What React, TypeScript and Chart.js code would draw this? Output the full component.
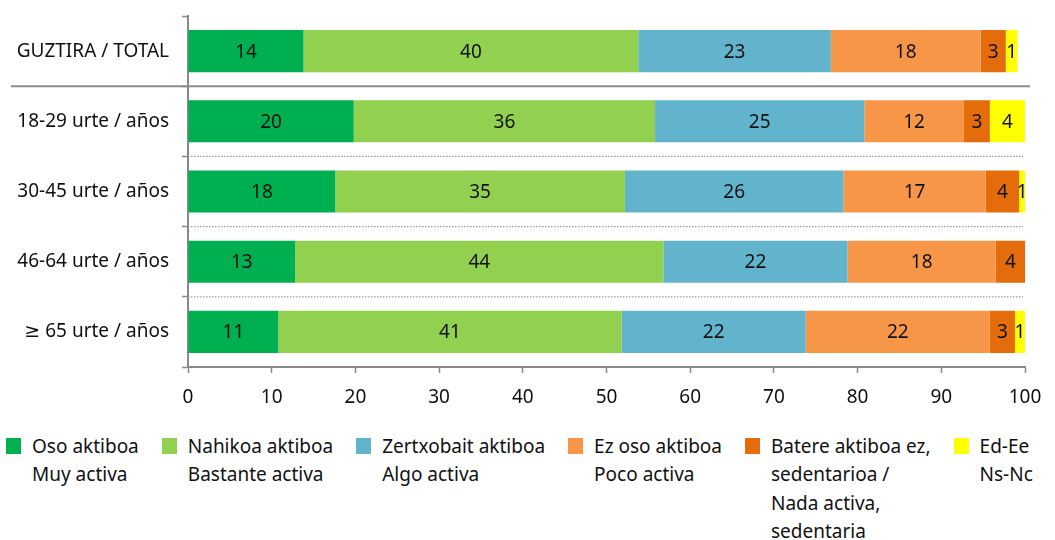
import React, { useEffect, useRef } from 'react';
import { Chart, registerables } from 'chart.js';

Chart.register(...registerables);

const categories = [
  'GUZTIRA / TOTAL',
  '18-29 urte / años',
  '30-45 urte / años',
  '46-64 urte / años',
  '≥ 65 urte / años',
];

const osoAktiboa = [13.8, 19.8, 17.6, 12.8, 10.8];
const nahikoaAktiboa = [40.0, 36.0, 34.6, 44.0, 41.0];
const zertxobaitAktiboa = [23.0, 25.0, 26.1, 22.0, 22.0];
const ezOsoAktiboa = [17.9, 11.9, 17.0, 17.7, 22.0];
const batereAktiboa = [3.0, 3.1, 4.0, 3.5, 3.0];
const edEe = [1.4, 4.2, 0.7, 0, 1.2];

const seriesValues = [osoAktiboa, nahikoaAktiboa, zertxobaitAktiboa, ezOsoAktiboa, batereAktiboa, edEe];

const seriesLabels: string[][] = [
  ['Oso aktiboa', 'Muy activa'],
  ['Nahikoa aktiboa', 'Bastante activa'],
  ['Zertxobait aktiboa', 'Algo activa'],
  ['Ez oso aktiboa', 'Poco activa'],
  ['Batere aktiboa ez,', 'sedentarioa /', 'Nada activa,', 'sedentaria'],
  ['Ed-Ee', 'Ns-Nc'],
];

const seriesColors = ['#00B050', '#92D050', '#62B4CC', '#F79646', '#E46C0A', '#FFFF00'];

const xMin = 0;
const xMax = 100;
const xStep = 10;

const FONT = '"Noto Sans", "DejaVu Sans", sans-serif';
const FONT_SIZE = 19;
const AXIS_COLOR = '#898989';

const separatorPlugin = {
  id: 'separators',
  afterDatasetsDraw(chart: any) {
    const { ctx, chartArea, scales } = chart;
    const y = scales.y;
    ctx.save();
    for (let i = 0; i < categories.length - 1; i++) {
      const yy = (y.getPixelForValue(i) + y.getPixelForValue(i + 1)) / 2;
      ctx.beginPath();
      if (i === 0) {
        ctx.strokeStyle = '#8c8c8c';
        ctx.lineWidth = 2;
        ctx.setLineDash([]);
        ctx.moveTo(11, yy);
        ctx.lineTo(chartArea.right + 5, yy);
      } else {
        ctx.strokeStyle = '#9a9a9a';
        ctx.lineWidth = 1.2;
        ctx.setLineDash([1.5, 1.5]);
        ctx.moveTo(chartArea.left, yy);
        ctx.lineTo(chartArea.right - 2, yy);
      }
      ctx.stroke();
    }
    ctx.restore();
  },
};

const valueLabelPlugin = {
  id: 'valueLabels',
  afterDatasetsDraw(chart: any) {
    const { ctx } = chart;
    ctx.save();
    ctx.font = `${FONT_SIZE}px ${FONT}`;
    ctx.fillStyle = '#111';
    ctx.textAlign = 'center';
    ctx.textBaseline = 'middle';
    chart.data.datasets.forEach((ds: any, di: number) => {
      const meta = chart.getDatasetMeta(di);
      meta.data.forEach((el: any, i: number) => {
        const v = ds.data[i];
        if (!v) return;
        const { x, base, y } = el.getProps(['x', 'base', 'y'], true);
        ctx.fillText(String(Math.round(v)), (x + base) / 2, y + 1);
      });
    });
    ctx.restore();
  },
};

export default function App() {
  const canvasRef = useRef<HTMLCanvasElement | null>(null);

  useEffect(() => {
    if (!canvasRef.current) return;
    const chart = new Chart(canvasRef.current, {
      type: 'bar',
      data: {
        labels: categories,
        datasets: seriesValues.map((vals, i) => ({
          label: seriesLabels[i].join(' '),
          data: vals,
          backgroundColor: seriesColors[i],
          borderWidth: 0,
          categoryPercentage: 0.6,
          barPercentage: 1,
        })),
      },
      options: {
        indexAxis: 'y',
        responsive: false,
        animation: false,
        devicePixelRatio: 1,
        layout: { padding: { left: 0, top: 16, right: 30, bottom: 0 } },
        plugins: {
          legend: { display: false },
          tooltip: { enabled: false },
        },
        scales: {
          x: {
            stacked: true,
            min: xMin,
            max: xMax,
            ticks: {
              stepSize: xStep,
              color: '#111',
              font: { family: FONT, size: FONT_SIZE },
              padding: 13,
              maxRotation: 0,
            },
            grid: {
              drawOnChartArea: false,
              drawTicks: true,
              tickLength: 6,
              tickColor: AXIS_COLOR,
              tickWidth: 1.5,
            },
            border: { color: AXIS_COLOR, width: 2 },
            afterFit(scale: any) {
              scale.height = 53;
              scale.paddingLeft = 0;
              scale.paddingRight = 0;
            },
          },
          y: {
            stacked: true,
            ticks: {
              color: '#111',
              font: { family: FONT, size: FONT_SIZE },
              padding: 13,
            },
            grid: {
              offset: true,
              drawOnChartArea: false,
              drawTicks: true,
              tickLength: 6,
              tickColor: AXIS_COLOR,
              tickWidth: 1.5,
            },
            border: { color: AXIS_COLOR, width: 2 },
            afterFit(scale: any) {
              scale.width = 188;
              scale.paddingTop = 0;
              scale.paddingBottom = 0;
            },
          },
        },
      } as any,
      plugins: [separatorPlugin, valueLabelPlugin],
    });
    return () => chart.destroy();
  }, []);

  return (
    <div style={{ position: 'absolute', left: 0, top: 0, width: 1055, height: 540, background: '#fff', overflow: 'hidden' }}>
      <canvas ref={canvasRef} width={1055} height={420} style={{ display: 'block', width: 1055, height: 420 }} />
      <div
        style={{
          position: 'absolute',
          left: 6,
          top: 432,
          display: 'flex',
          gap: 23,
          fontFamily: FONT,
          fontSize: FONT_SIZE,
          lineHeight: '28.4px',
          color: '#111',
          whiteSpace: 'nowrap',
        }}
      >
        {seriesLabels.map((lines, i) => (
          <div key={i} style={{ display: 'flex', alignItems: 'flex-start' }}>
            <div style={{ width: 15, height: 16, marginTop: 6, marginRight: 11, background: seriesColors[i], flex: 'none' }} />
            <div>
              {lines.map((l, j) => (
                <div key={j}>{l}</div>
              ))}
            </div>
          </div>
        ))}
      </div>
    </div>
  );
}
